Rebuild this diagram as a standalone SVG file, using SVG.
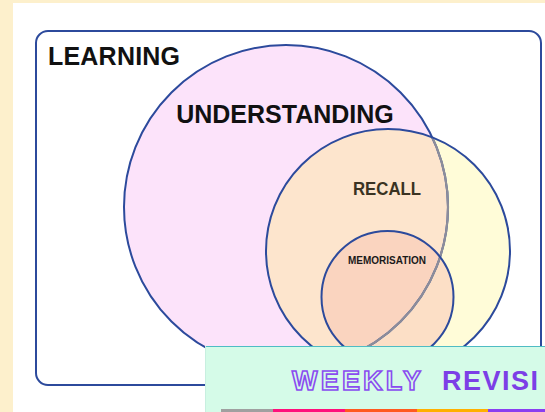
<svg xmlns="http://www.w3.org/2000/svg" width="545" height="412" viewBox="0 0 545 412">
<style>
.lbl{font-family:"Liberation Sans",Arial,sans-serif;font-weight:bold;text-anchor:middle}
.edge{fill:none;stroke:#2c4a9c;stroke-width:2}
.ban{font-family:"Liberation Sans",Arial,sans-serif;font-weight:bold;font-size:27px}
</style>
<defs>
<clipPath id="cU"><circle cx="286" cy="207" r="162"/></clipPath>
<clipPath id="cR"><circle cx="388" cy="251" r="122"/></clipPath>
</defs>
<rect width="545" height="412" fill="#fdf0cc"/>
<rect x="13" y="3" width="532" height="409" fill="#ffffff"/>
<g id="learning">
<rect x="36" y="31" width="505" height="354" rx="12" fill="#ffffff" class="edge"/>
<text class="lbl" x="48" y="65" font-size="25" style="text-anchor:start" fill="#111" textLength="132">LEARNING</text>
</g>
<g id="understanding">
<circle cx="286" cy="207" r="162" fill="#fce3fa"/>
</g>
<g id="recall">
<circle cx="388" cy="251" r="122" fill="#fffcd8"/>
<circle cx="388" cy="251" r="122" fill="#fde5cd" clip-path="url(#cU)"/>
</g>
<g id="memorisation">
<circle cx="387.5" cy="297" r="66" fill="#fcdfc6"/>
<circle cx="387.5" cy="297" r="66" fill="#fad4bf" clip-path="url(#cU)"/>
</g>
<g id="outlines">
<circle cx="286" cy="207" r="162" class="edge"/>
<circle cx="286" cy="207" r="162" fill="none" stroke="#8d8d9a" stroke-width="2.2" clip-path="url(#cR)"/>
<circle cx="388" cy="251" r="122" class="edge"/>
<circle cx="387.5" cy="297" r="66" class="edge"/>
</g>
<g id="labels">
<text class="lbl" x="285" y="123" font-size="25" fill="#111">UNDERSTANDING</text>
<text class="lbl" x="387" y="195" font-size="19" fill="#3a3322" textLength="68" lengthAdjust="spacingAndGlyphs">RECALL</text>
<text class="lbl" x="387" y="264" font-size="10" fill="#1a1a1a">MEMORISATION</text>
</g>
<g id="banner">
<rect x="205" y="346" width="340" height="66" fill="#d5fbe8"/>
<line x1="205" y1="346.5" x2="545" y2="346.5" stroke="#4fbcc4" stroke-width="1.2"/>
<line x1="205.5" y1="346" x2="205.5" y2="412" stroke="#c8efe0" stroke-width="1"/>
<text class="ban" x="292" y="390" fill="#d5fbe8" stroke="#8a4cf0" stroke-width="1.6" textLength="129" lengthAdjust="spacing">WEEKLY</text>
<text class="ban" x="442" y="390" fill="#7c3fe6" textLength="96" lengthAdjust="spacing">REVISI</text>
<rect x="221" y="409" width="52" height="3" fill="#a0a0a0"/>
<rect x="273" y="409" width="72" height="3" fill="#ff0f7b"/>
<rect x="345" y="409" width="72" height="3" fill="#ff5a1f"/>
<rect x="417" y="409" width="71" height="3" fill="#ffb000"/>
<rect x="488" y="409" width="57" height="3" fill="#8a3ff0"/>
</g>
</svg>
